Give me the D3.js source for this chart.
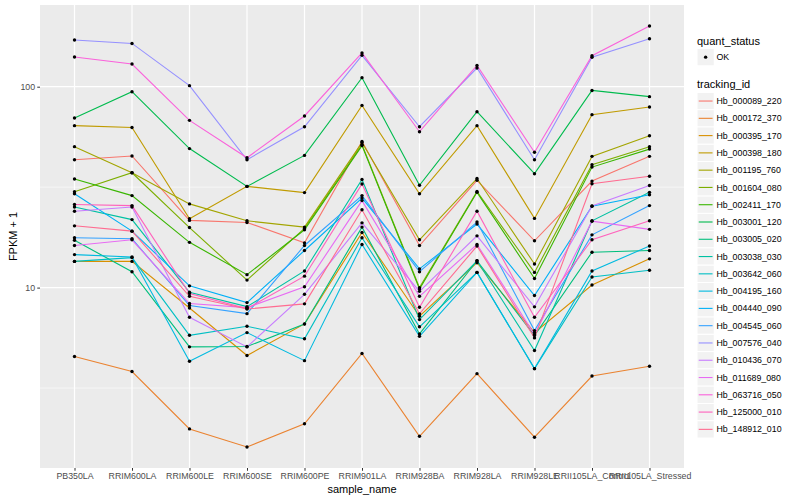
<!DOCTYPE html>
<html><head><meta charset="utf-8">
<script src="https://cdn.jsdelivr.net/npm/d3@7"></script>
<style>
body{margin:0;background:#fff}
svg{display:block}
text{font-family:"Liberation Sans",Arial,Helvetica,sans-serif}
</style>
</head><body>
<svg id="chart" width="800" height="500"></svg>
<script>
// ---- data (FPKM + 1) ----
const samples = ["PB350LA","RRIM600LA","RRIM600LE","RRIM600SE","RRIM600PE","RRIM901LA","RRIM928BA","RRIM928LA","RRIM928LE","RRII105LA_Control","RRII105LA_Stressed"];
const trackingIds = ["Hb_000089_220","Hb_000172_370","Hb_000395_170","Hb_000398_180","Hb_001195_760","Hb_001604_080","Hb_002411_170","Hb_003001_120","Hb_003005_020","Hb_003038_030","Hb_003642_060","Hb_004195_160","Hb_004440_090","Hb_004545_060","Hb_007576_040","Hb_010436_070","Hb_011689_080","Hb_063716_050","Hb_125000_010","Hb_148912_010"];
const quantStatus = ["OK"];
const yTickValues = [10, 100];

const hb_000089_220 = [43.3, 45.2, 21.6, 21.1, 16.7, 53.4, 16.2, 34.2, 17.1, 33.9, 45.0];
const hb_000172_370 = [4.54, 3.82, 1.98, 1.61, 2.10, 4.70, 1.82, 3.73, 1.80, 3.63, 4.06];
const hb_000395_170 = [13.5, 13.5, 7.92, 4.59, 6.60, 18.8, 7.20, 13.3, 5.97, 10.3, 13.9];
const hb_000398_180 = [64.0, 62.7, 22.0, 31.9, 29.7, 80.7, 29.3, 64.0, 22.1, 72.6, 79.2];
const hb_001195_760 = [50.3, 37.3, 26.1, 21.5, 20.0, 52.7, 17.3, 34.9, 13.1, 45.0, 57.0];
const hb_001604_080 = [30.0, 37.3, 19.9, 10.9, 19.7, 51.5, 10.0, 30.1, 11.9, 40.9, 50.3];
const hb_002411_170 = [34.7, 28.7, 16.8, 11.6, 19.4, 50.9, 9.85, 29.8, 11.1, 39.8, 48.9];
const hb_003001_120 = [69.9, 94.4, 49.2, 31.9, 45.5, 110.9, 32.3, 75.1, 36.9, 95.8, 89.2];
const hb_003005_020 = [17.2, 12.0, 5.07, 5.09, 6.58, 20.0, 5.88, 13.6, 5.77, 15.0, 15.3];
const hb_003038_030 = [25.2, 21.8, 9.48, 8.04, 12.1, 34.5, 6.93, 13.6, 4.86, 21.5, 29.8];
const hb_003642_060 = [13.5, 14.1, 5.79, 6.42, 5.56, 17.7, 6.38, 11.9, 3.95, 11.3, 12.2];
const hb_004195_160 = [14.6, 14.2, 4.30, 5.97, 4.33, 16.4, 5.72, 11.9, 3.95, 12.1, 16.1];
const hb_004440_090 = [29.3, 19.1, 10.2, 8.42, 15.3, 27.9, 12.4, 20.7, 9.13, 25.4, 29.0];
const hb_004545_060 = [17.7, 17.5, 8.14, 7.42, 16.2, 28.7, 12.0, 21.2, 6.11, 18.3, 25.6];
const hb_007576_040 = [170.7, 164.2, 101.2, 43.3, 63.2, 143.2, 63.2, 123.9, 43.3, 140.2, 173.3];
const hb_010436_070 = [24.0, 25.2, 7.12, 5.07, 9.26, 21.0, 9.58, 18.1, 8.02, 25.5, 32.2];
const hb_011689_080 = [16.2, 17.3, 8.33, 7.95, 10.1, 27.1, 9.05, 16.4, 5.84, 21.4, 19.5];
const hb_063716_050 = [140.6, 129.7, 68.0, 44.3, 71.5, 147.2, 59.7, 127.6, 47.2, 142.7, 200.4];
const hb_125000_010 = [25.9, 25.6, 9.34, 7.86, 11.4, 32.8, 7.98, 24.0, 7.12, 17.3, 21.5];
const hb_148912_010 = [20.3, 19.1, 9.05, 7.82, 8.30, 24.4, 7.40, 16.1, 5.62, 32.9, 35.8];

const seriesValues = [hb_000089_220, hb_000172_370, hb_000395_170, hb_000398_180, hb_001195_760,
  hb_001604_080, hb_002411_170, hb_003001_120, hb_003005_020, hb_003038_030, hb_003642_060,
  hb_004195_160, hb_004440_090, hb_004545_060, hb_007576_040, hb_010436_070, hb_011689_080,
  hb_063716_050, hb_125000_010, hb_148912_010];

// ggplot2 default hue palette for 20 levels
const palette = ["#F8766D","#EA8331","#D89000","#C09B00","#A3A500","#7CAE00","#39B600","#00BB4E","#00BF7D","#00C1A3","#00BFC4","#00BAE0","#00B0F6","#35A2FF","#9590FF","#C77CFF","#E76BF3","#FA62DB","#FF62BC","#FF6C91"];

// ---- layout ----
const panel = {left: 40, right: 684, top: 5, bottom: 468};
const svg = d3.select("#chart");
const series = trackingIds.map((id, i) => ({id, values: seriesValues[i].map((v, j) => ({sample: samples[j], v}))}));

const allVals = seriesValues.flat();
const lmin = Math.log10(d3.min(allVals)), lmax = Math.log10(d3.max(allVals));
const ex = (lmax - lmin) * 0.05;

const x = d3.scalePoint().domain(samples).range([panel.left, panel.right]).padding(0.6);
const y = d3.scaleLog().domain([Math.pow(10, lmin - ex), Math.pow(10, lmax + ex)]).range([panel.bottom, panel.top]);
const color = d3.scaleOrdinal().domain(trackingIds).range(palette);

// panel background
svg.append("rect").attr("x", panel.left).attr("y", panel.top)
  .attr("width", panel.right - panel.left).attr("height", panel.bottom - panel.top)
  .attr("fill", "#EBEBEB");

// minor gridlines (midway in log space)
const minor = [Math.pow(10, 0.5), Math.pow(10, 1.5), Math.pow(10, 2.5)].filter(v => v > y.domain()[0] && v < y.domain()[1]);
svg.append("g").selectAll("line").data(minor).join("line")
  .attr("x1", panel.left).attr("x2", panel.right)
  .attr("y1", d => y(d)).attr("y2", d => y(d))
  .attr("stroke", "#fff").attr("stroke-width", 0.6);
// major gridlines
svg.append("g").selectAll("line").data(yTickValues).join("line")
  .attr("x1", panel.left).attr("x2", panel.right)
  .attr("y1", d => y(d)).attr("y2", d => y(d))
  .attr("stroke", "#fff").attr("stroke-width", 1.2);
svg.append("g").selectAll("line").data(samples).join("line")
  .attr("x1", d => x(d)).attr("x2", d => x(d))
  .attr("y1", panel.top).attr("y2", panel.bottom)
  .attr("stroke", "#fff").attr("stroke-width", 1.2);

// lines
const line = d3.line().x(d => x(d.sample)).y(d => y(d.v));
svg.append("g").selectAll("path").data(series).join("path")
  .attr("d", d => line(d.values))
  .attr("fill", "none")
  .attr("stroke", d => color(d.id))
  .attr("stroke-width", 1.1);

// points
svg.append("g").selectAll("g").data(series).join("g")
  .selectAll("circle").data(d => d.values).join("circle")
  .attr("cx", d => x(d.sample)).attr("cy", d => y(d.v)).attr("r", 1.7)
  .attr("fill", "#000");

// axes
const yAxis = d3.axisLeft(y).tickValues(yTickValues).tickFormat(d3.format("d")).tickSize(2.75).tickPadding(2.2);
const gy = svg.append("g").attr("transform", `translate(${panel.left},0)`).call(yAxis);
const xAxis = d3.axisBottom(x).tickSize(2.75).tickPadding(2.2);
const gx = svg.append("g").attr("transform", `translate(0,${panel.bottom})`).call(xAxis);
[gx, gy].forEach(g => {
  g.select(".domain").remove();
  g.selectAll(".tick line").attr("stroke", "#333333").attr("stroke-width", 1);
  g.selectAll(".tick text").attr("fill", "#4D4D4D").style("font-size", "8.8px")
    .style("font-family", '"Liberation Sans",Arial,sans-serif');
});

// axis titles
svg.append("text").attr("x", (panel.left + panel.right) / 2).attr("y", 492.5)
  .attr("text-anchor", "middle").style("font-size", "11px").attr("fill", "#000").text("sample_name");
svg.append("text").attr("transform", `translate(16.5,${(panel.top + panel.bottom) / 2}) rotate(-90)`)
  .attr("text-anchor", "middle").style("font-size", "11px").attr("fill", "#000").text("FPKM + 1");

// legends
const lg = svg.append("g");
const keyX = 697, keyW = 17.28;
lg.append("text").attr("x", keyX).attr("y", 44.5).style("font-size", "11px").text("quant_status");
lg.selectAll("rect.q").data(quantStatus).join("rect").attr("class", "q")
  .attr("x", keyX).attr("y", (d, i) => 48.5 + i * keyW).attr("width", keyW).attr("height", keyW)
  .attr("fill", "#F2F2F2").attr("stroke", "#fff").attr("stroke-width", 1);
lg.selectAll("circle.q").data(quantStatus).join("circle").attr("class", "q")
  .attr("cx", keyX + keyW / 2).attr("cy", (d, i) => 48.5 + keyW / 2 + i * keyW).attr("r", 1.7).attr("fill", "#000");
lg.selectAll("text.q").data(quantStatus).join("text").attr("class", "q")
  .attr("x", keyX + keyW + 2.2).attr("y", (d, i) => 48.5 + keyW / 2 + i * keyW + 3.1)
  .style("font-size", "8.8px").text(d => d);

lg.append("text").attr("x", keyX).attr("y", 88).style("font-size", "11px").text("tracking_id");
const top0 = 92.4;
const rows = lg.selectAll("g.k").data(trackingIds).join("g").attr("class", "k")
  .attr("transform", (d, i) => `translate(${keyX},${top0 + i * keyW})`);
rows.append("rect").attr("width", keyW).attr("height", keyW)
  .attr("fill", "#F2F2F2").attr("stroke", "#fff").attr("stroke-width", 1);
rows.append("line").attr("x1", keyW * 0.1).attr("x2", keyW * 0.9)
  .attr("y1", keyW / 2).attr("y2", keyW / 2)
  .attr("stroke", d => color(d)).attr("stroke-width", 1.1);
rows.append("text").attr("x", keyW + 2.2).attr("y", keyW / 2 + 3.1)
  .style("font-size", "8.8px").text(d => d);
</script>
</body></html>
